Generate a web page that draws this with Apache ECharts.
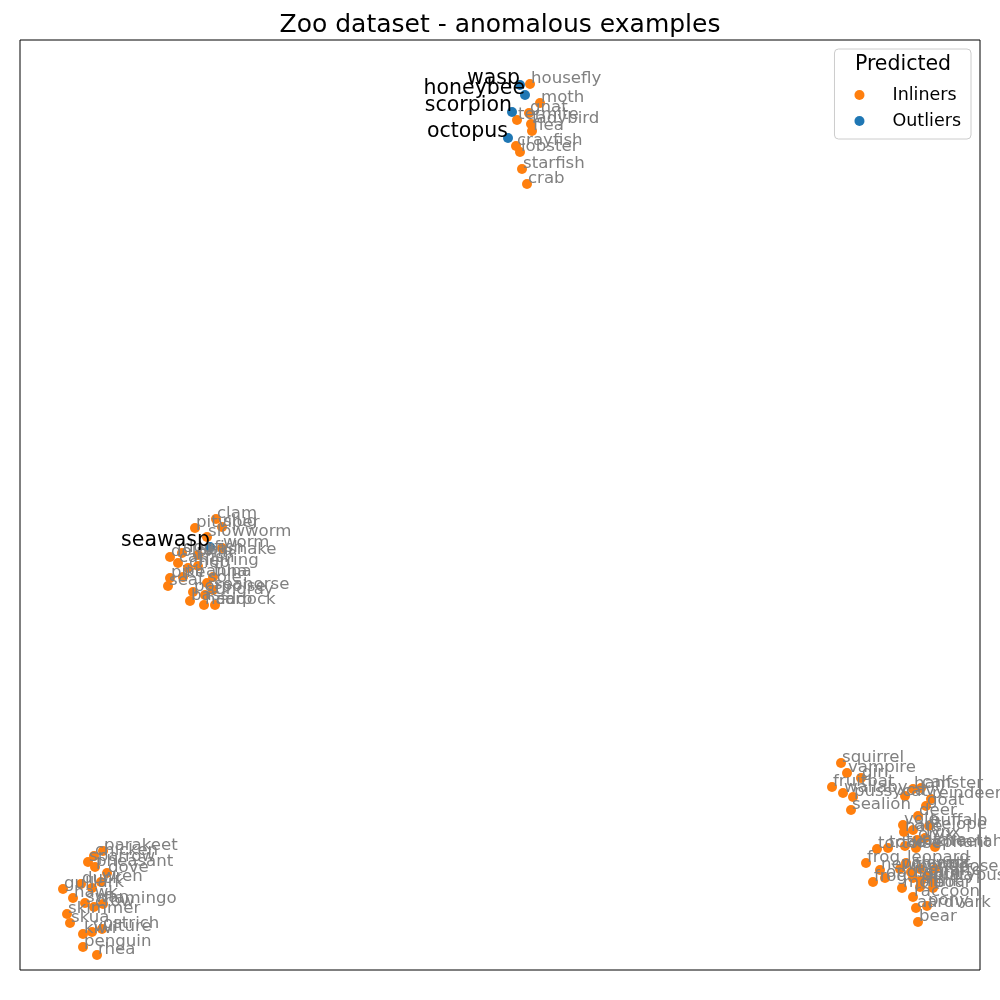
<!DOCTYPE html>
<html>
<head>
<meta charset="utf-8">
<script src="https://cdn.jsdelivr.net/npm/echarts@6/dist/echarts.min.js"></script>
<style>html,body{margin:0;padding:0;background:#fff}#chart{width:1000px;height:1000px}</style>
</head>
<body>
<div id="chart"></div>
<script>
// Embedding coordinates (arbitrary 2-D units)
const inlierNames = [
  'housefly','moth','gnat','termite','ladybird','flea','crayfish','lobster','starfish','crab',
  'clam','pitviper','slug','slowworm','worm','seasnake','dolphin','dogfish','catfish','chub','herring','piranha','pike','tuna','seal','sole','seahorse','porpoise','stingray','bass','haddock','carp',
  'parakeet','chicken','sparrow','pheasant','dove','wren','duck','gull','lark','hawk','swan','crow','flamingo','skimmer','skua','ostrich','kiwi','vulture','penguin','rhea',
  'squirrel','vampire','girl','fruitbat','wallaby','pussycat','sealion','cavy','hamster','calf','reindeer','goat','deer','vole','buffalo','hare','antelope','lynx','oryx','tortoise','toad','tuatara','elephant','cheetah','frog','leopard','newt','polecat','mongoose','puma','wolf','frog','opossum','lion','gorilla','giraffe','platypus','mole','mink','boar','raccoon','pony','aardvark','bear'
];
const inlierX = [
  510,520,509,497,511,512,496,500,502,507,
  196,175,202,187,202,178,150,162,158,168,178,163,150,193,148,187,193,173,185,170,184,195,
  83,74,68,75,87,81,61,43,72,53,65,74,83,47,50,82,63,72,63,77,
  821,827,841,812,823,833,831,885,893,901,911,906,898,883,909,884,893,905,897,857,868,885,896,915,846,886,860,880,891,900,915,853,865,893,901,907,913,882,900,913,893,907,896,898
];
const inlierY = [
  886,867,857,850,846,839,824,818,801,786,
  451,442,443,433,422,415,413,417,407,402,404,393,392,393,384,387,380,378,375,369,365,365,
  119,114,108,103,97,88,86,81,82,72,67,63,66,56,47,41,36,38,23,15,
  207,197,192,183,177,173,160,174,181,182,171,164,154,145,144,138,140,132,130,121,122,124,122,123,107,107,100,101,98,101,101,88,92,92,89,94,89,82,83,82,73,64,62,48
];
const outlierNames = ['wasp','honeybee','scorpion','octopus','seawasp'];
const outlierX = [500,505,492,488,190];
const outlierY = [885,875,858,832,423];

const titleText = 'Zoo dataset - anomalous examples';
const legendTitle = 'Predicted';
const seriesNames = ['Inliners','Outliers'];

const FONT = 'DejaVu Sans';
const inlierData = inlierNames.map((n,i)=>({name:n, value:[inlierX[i], inlierY[i]]}));
const outlierData = outlierNames.map((n,i)=>({name:n, value:[outlierX[i], outlierY[i]]}));

const chart = echarts.init(document.getElementById('chart'), null, {renderer:'canvas'});
const axisCommon = {
  type:'value', axisLine:{show:false}, axisTick:{show:false},
  axisLabel:{show:false}, splitLine:{show:false}
};
chart.setOption({
  animation:false,
  backgroundColor:'#fff',
  title:{
    text:titleText, left:'center', top:8,
    textStyle:{fontFamily:FONT, fontSize:25, fontWeight:'normal', color:'#000'}
  },
  grid:{left:20, right:20, top:40, bottom:30, show:true, borderColor:'#000', borderWidth:1, backgroundColor:'transparent'},
  xAxis:Object.assign({min:0, max:960}, axisCommon),
  yAxis:Object.assign({min:0, max:930}, axisCommon),
  legend:{
    data:seriesNames, orient:'vertical', right:29, top:49,
    padding:[36,10,8,20], itemGap:6,
    backgroundColor:'#fff', borderColor:'#cccccc', borderWidth:1, borderRadius:4,
    icon:'circle', itemWidth:10, itemHeight:10,
    textStyle:{fontFamily:FONT, fontSize:17.5, color:'#000', lineHeight:20, padding:[0,0,0,23]}
  },
  graphic:[{
    type:'text', x:903, y:65, z:100,
    style:{text:legendTitle, fill:'#000', fontSize:20.5, fontFamily:FONT, align:'center', verticalAlign:'middle'}
  }],
  series:[
    {
      name:seriesNames[0], type:'scatter', data:inlierData, symbolSize:10,
      itemStyle:{color:'#ff7f0e', opacity:1},
      label:{show:true, formatter:'{b}', position:['50%','50%'], align:'left', verticalAlign:'middle',
        offset:[1,-5], color:'#808080', fontSize:16.6, fontFamily:FONT},
      emphasis:{disabled:true}
    },
    {
      name:seriesNames[1], type:'scatter', data:outlierData, symbolSize:10,
      itemStyle:{color:'#1f77b4', opacity:1},
      label:{show:true, formatter:'{b}', position:['50%','50%'], align:'right', verticalAlign:'middle',
        offset:[0,-6], color:'#000', fontSize:20.5, fontFamily:FONT},
      emphasis:{disabled:true}
    }
  ]
});
</script>
</body>
</html>
